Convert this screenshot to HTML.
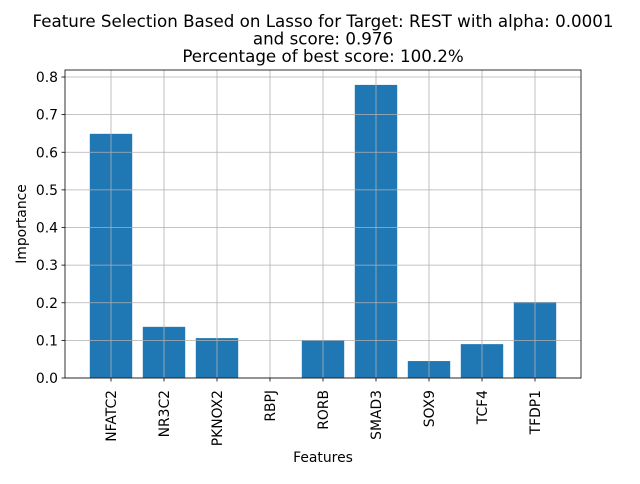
<!DOCTYPE html>
<html><head><meta charset="utf-8"><style>
body{margin:0;background:#fff;font-family:"DejaVu Sans","Liberation Sans",sans-serif}
</style></head><body>
<svg width="640" height="480" xmlns="http://www.w3.org/2000/svg" font-family="DejaVu Sans, Liberation Sans, sans-serif">
<g font-size="16.7" text-anchor="middle" fill="#000">
<text x="323" y="27">Feature Selection Based on Lasso for Target: REST with alpha: 0.0001</text>
<text x="323" y="44.5">and score: 0.976</text>
<text x="323" y="62"> Percentage of best score: 100.2%</text>
</g>
<g id="plot"></g>
<text x="323" y="462" font-size="13.9" text-anchor="middle">Features</text>
<text transform="translate(26,224) rotate(-90)" font-size="13.9" text-anchor="middle">Importance</text>
</svg>
<script>
const categories=["NFATC2","NR3C2","PKNOX2","RBPJ","RORB","SMAD3","SOX9","TCF4","TFDP1"];
const values=[0.649,0.136,0.106,0.0,0.101,0.779,0.045,0.090,0.202];
const yTicks=[0,0.1,0.2,0.3,0.4,0.5,0.6,0.7,0.8];
const yTickLabels=["0.0","0.1","0.2","0.3","0.4","0.5","0.6","0.7","0.8"];
const L=65,R=581,T=70,B=378;
const y=v=>B-v*376.25;
const x=i=>L+(i+0.868)*((R-L)/(categories.length-1+1.736));
const bw=(R-L)/(categories.length-1+1.736)*0.8;
const ns="http://www.w3.org/2000/svg";
const g=document.getElementById('plot');
function mk(t,a){const e=document.createElementNS(ns,t);for(const k in a)e.setAttribute(k,a[k]);g.appendChild(e);return e;}
values.forEach((v,i)=>{
 const r=mk('rect',{x:x(i)-bw/2,y:y(v),width:bw,height:B-y(v),fill:'#1f77b4'});
 
 
});
yTicks.forEach((t,i)=>{
 const l=mk('line',{x1:L,x2:R,y1:y(t),y2:y(t),stroke:'#b0b0b0','stroke-width':0.8});
 
 
 mk('line',{x1:L-3.5,x2:L,y1:y(t),y2:y(t),stroke:'#000','stroke-width':0.8});
 const tx=mk('text',{x:L-7,y:y(t)+5,'font-size':13.9,'text-anchor':'end'});
 tx.textContent=yTickLabels[i];
 
 
});
categories.forEach((c,i)=>{
 const l=mk('line',{x1:x(i),x2:x(i),y1:T,y2:B,stroke:'#b0b0b0','stroke-width':0.8});
 
 
 mk('line',{x1:x(i),x2:x(i),y1:B,y2:B+3.5,stroke:'#000','stroke-width':0.8});
 const tx=mk('text',{transform:`translate(${x(i)+5},${B+12}) rotate(-90)`,'font-size':13.9,'text-anchor':'end'});
 tx.textContent=c;
 
 
});
const f=mk('rect',{x:L,y:T,width:R-L,height:B-T,fill:'none',stroke:'#000','stroke-width':0.8});


</script>
</body></html>
